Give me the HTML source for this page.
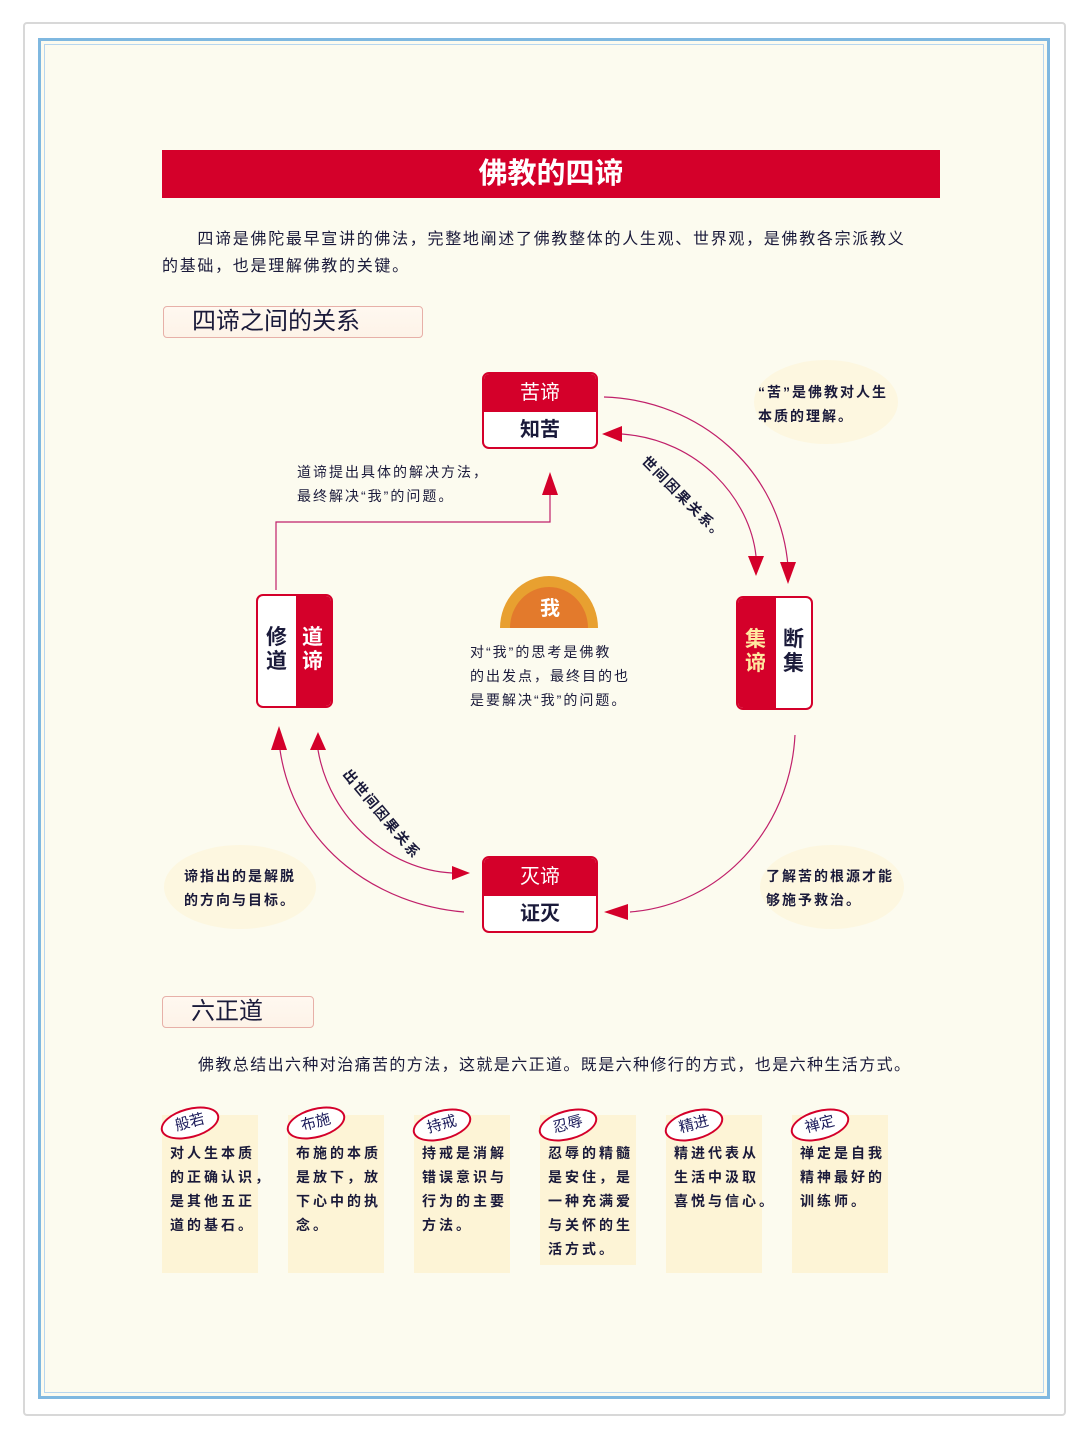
<!DOCTYPE html>
<html><head><meta charset="utf-8"><style>
*{margin:0;padding:0;box-sizing:border-box}
body{width:1088px;height:1438px;background:#fff;position:relative;overflow:hidden;font-family:"Liberation Sans","Noto Sans CJK SC",sans-serif;color:#1a1a3a}
.a{position:absolute}
.frame{left:23px;top:22px;width:1043px;height:1394px;border:2px solid #d8d8d8;border-radius:4px}
.inner{left:38px;top:38px;width:1012px;height:1361px;border:3px solid #7fb8e0;background:#fcfbef;outline:1px solid #b7d6ee;outline-offset:-7px}
.title{left:162px;top:150px;width:778px;height:48px;background:#d4002a;color:#fff;font-size:29px;font-weight:bold;text-align:center;line-height:48px}
.p{font-size:16px;line-height:27px;color:#1a1a3a;white-space:nowrap}
.sec{border:1px solid #e7b0a8;border-radius:4px;background:linear-gradient(#fff8f0,#fdf3e8);font-size:24px;line-height:30px;padding-left:28px;color:#1a1a3a}
.box{border:2px solid #d4002a;border-radius:7px;background:#fff;overflow:hidden;font-weight:bold}
.red{background:#d4002a;color:#fff}
.sm{font-size:14px;line-height:24px;color:#1a1a3a;letter-spacing:2px;white-space:nowrap}
.col{font-size:14px;line-height:24px;letter-spacing:3px;color:#1a1a3a;font-weight:bold;white-space:nowrap}
.card{background:#fcf3d0;width:96px;height:158px;opacity:.8}
.ov{border:2px solid #d4002a;border-radius:50%;width:60px;height:30px;background:#fff;font-size:15px;text-align:center;line-height:26px;transform:rotate(-15deg);color:#1a1a5a}
</style></head><body>
<div class="a frame"></div>
<div class="a inner"></div>
<div class="a title">佛教的四谛</div>
<div class="a p" style="left:162px;top:226px;letter-spacing:1.7px">　　四谛是佛陀最早宣讲的佛法，完整地阐述了佛教整体的人生观、世界观，是佛教各宗派教义<br>的基础，也是理解佛教的关键。</div>
<div class="a sec" style="left:163px;top:306px;width:260px;height:32px">四谛之间的关系</div>

<svg class="a" style="left:0;top:0" width="1088" height="1438">
<g fill="none" stroke="#c0206a" stroke-width="1.2">
<path d="M604,397 C700,400 780,470 788,566"/>
<path d="M622,434 C700,440 750,500 756,556"/>
<path d="M276,590 V522 H550 V495"/>
<path d="M795,735 C790,830 720,905 630,912"/>
<path d="M280,750 C295,850 380,905 464,912"/>
<path d="M318,750 C330,820 390,870 452,873"/>
</g>
<g fill="#d4002a">
<polygon points="780,562 796,562 788,584"/>
<polygon points="748,556 764,556 756,576"/>
<polygon points="602,434 622,426 622,442"/>
<polygon points="542,495 558,495 550,472"/>
<polygon points="604,912 628,904 628,920"/>
<polygon points="271,750 287,750 279,726"/>
<polygon points="310,750 326,750 318,732"/>
<polygon points="470,873 452,866 452,880"/>
</g>
<ellipse cx="826" cy="402" rx="72" ry="42" fill="#fdf7e0"/>
<ellipse cx="240" cy="887" rx="76" ry="42" fill="#fdf7e0"/>
<ellipse cx="832" cy="887" rx="72" ry="42" fill="#fdf7e0"/>
<path d="M500,628 A49,52 0 0 1 598,628 Z" fill="#e8a030"/>
<path d="M510,628 A38,40 0 0 1 588,628 Z" fill="#e0602a" opacity=".6"/>
</svg>

<div class="a box" style="left:482px;top:372px;width:116px;height:77px">
<div class="red" style="height:38px;font-size:20px;text-align:center;line-height:38px;font-weight:normal">苦谛</div>
<div style="font-size:20px;text-align:center;line-height:36px">知苦</div></div>
<div class="a box" style="left:482px;top:856px;width:116px;height:77px">
<div class="red" style="height:38px;font-size:20px;text-align:center;line-height:38px;font-weight:normal">灭谛</div>
<div style="font-size:20px;text-align:center;line-height:36px">证灭</div></div>
<div class="a box" style="left:256px;top:594px;width:77px;height:114px;display:flex">
<div style="width:38px;font-size:21px;line-height:24px;padding:30px 0 0 8px">修<br>道</div>
<div class="red" style="flex:1;font-size:21px;line-height:24px;padding:30px 0 0 6px">道<br>谛</div></div>
<div class="a box" style="left:736px;top:596px;width:77px;height:114px;display:flex">
<div class="red" style="width:38px;font-size:21px;line-height:24px;padding:30px 0 0 7px;color:#ffe8a0">集<br>谛</div>
<div style="flex:1;font-size:21px;line-height:24px;padding:30px 0 0 7px">断<br>集</div></div>
<div class="a" style="left:540px;top:592px;color:#fff;font-weight:bold;font-size:20px">我</div>
<div class="a sm" style="left:470px;top:640px">对“我”的思考是佛教<br>的出发点，最终目的也<br>是要解决“我”的问题。</div>
<div class="a sm" style="left:297px;top:460px">道谛提出具体的解决方法，<br>最终解决“我”的问题。</div>
<div class="a sm" style="left:758px;top:380px;font-weight:bold">“苦”是佛教对人生<br>本质的理解。</div>
<div class="a sm" style="left:184px;top:864px;font-weight:bold">谛指出的是解脱<br>的方向与目标。</div>
<div class="a sm" style="left:766px;top:864px;font-weight:bold">了解苦的根源才能<br>够施予救治。</div>
<div class="a sm" style="left:628px;top:486px;transform:rotate(45deg);font-weight:bold">世间因果关系。</div>
<div class="a sm" style="left:326px;top:802px;transform:rotate(50deg);font-weight:bold">出世间因果关系</div>

<div class="a sec" style="left:162px;top:996px;width:152px;height:32px">六正道</div>
<div class="a p" style="left:198px;top:1052px;letter-spacing:1.4px">佛教总结出六种对治痛苦的方法，这就是六正道。既是六种修行的方式，也是六种生活方式。</div>

<div class="a card" style="left:162px;top:1115px"></div>
<div class="a card" style="left:288px;top:1115px"></div>
<div class="a card" style="left:414px;top:1115px"></div>
<div class="a card" style="left:540px;top:1115px;height:150px"></div>
<div class="a card" style="left:666px;top:1115px"></div>
<div class="a card" style="left:792px;top:1115px"></div>
<div class="a ov" style="left:160px;top:1108px">般若</div>
<div class="a ov" style="left:286px;top:1108px">布施</div>
<div class="a ov" style="left:412px;top:1110px">持戒</div>
<div class="a ov" style="left:538px;top:1110px">忍辱</div>
<div class="a ov" style="left:664px;top:1110px">精进</div>
<div class="a ov" style="left:790px;top:1110px">禅定</div>
<div class="a col" style="left:170px;top:1141px">对人生本质<br>的正确认识，<br>是其他五正<br>道的基石。</div>
<div class="a col" style="left:296px;top:1141px">布施的本质<br>是放下，放<br>下心中的执<br>念。</div>
<div class="a col" style="left:422px;top:1141px">持戒是消解<br>错误意识与<br>行为的主要<br>方法。</div>
<div class="a col" style="left:548px;top:1141px">忍辱的精髓<br>是安住，是<br>一种充满爱<br>与关怀的生<br>活方式。</div>
<div class="a col" style="left:674px;top:1141px">精进代表从<br>生活中汲取<br>喜悦与信心。</div>
<div class="a col" style="left:800px;top:1141px">禅定是自我<br>精神最好的<br>训练师。</div>
</body></html>
